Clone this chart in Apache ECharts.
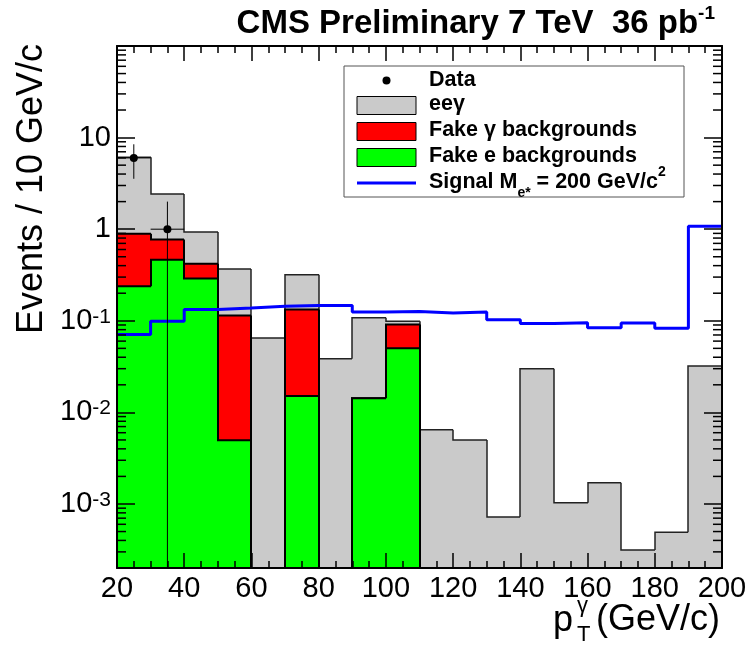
<!DOCTYPE html>
<html><head><meta charset="utf-8">
<script src="https://cdn.jsdelivr.net/npm/echarts@6/dist/echarts.min.js"></script>
<style>html,body{margin:0;padding:0;background:#fff}#c{width:751px;height:651px}</style>
</head><body><div id="c"></div>
<script>
// ---- data ----
const binEdges = [20,30,40,50,60,70,80,90,100,110,120,130,140,150,160,170,180,190,200];
const fakeE     = [0.238,0.465,0.289,0.00497,0,0.0151,0,0.0143,0.050,0,0,0,0,0,0,0,0,0];
const fakeGamma = [0.652,0.305,0.131,0.109,0,0.118,0,0,0.041,0,0,0,0,0,0,0,0,0];
const eeGamma   = [5.23,1.65,0.51,0.254,0.065,0.186,0.0385,0.0937,0.008,0.00645,0.0050,0.00072,0.030,0.00103,0.0017,0.000315,0.00049,0.032];
const signal    = [0.071,0.099,0.133,0.138,0.144,0.147,0.147,0.125,0.126,0.122,0.125,0.1025,0.0935,0.095,0.0838,0.0943,0.083,1.08];
const dataX   = [25, 35];
const dataY   = [6, 1];
const dataErr = [2.45, 1.0];
const yDecades      = [0.001, 0.01, 0.1, 1, 10];
const yDecadeLabels = ['10{s|-3}', '10{s|-2}', '10{s|-1}', '1', '10'];
const yMinorMult    = [2,3,4,5,6,7,8,9];

const FONT = '"Liberation Sans", Arial, Helvetica, sans-serif';
const Y_MIN = 0.0002, Y_MAX = 100;

// stacked tops
const topGreen = fakeE.slice();
const topRed = fakeE.map((v, i) => v + fakeGamma[i]);
const topGrey = topRed.map((v, i) => v + eeGamma[i]);

function histData(vals) {
  return vals.map((v, i) => [binEdges[i], binEdges[i + 1], v, i > 0 ? vals[i - 1] : 0]);
}
function histRender(fill, stroke, lw) {
  return function (params, api) {
    const cs = params.coordSys;
    const bottom = cs.y + cs.height;
    const x0 = api.value(0), x1 = api.value(1), v = api.value(2), pv = api.value(3);
    const yOf = val => (val > 0 ? Math.min(api.coord([x0, val])[1], bottom) : bottom);
    const px0 = Math.round(api.coord([x0, 1])[0]), px1 = Math.round(api.coord([x1, 1])[0]);
    const py = yOf(v), ppy = yOf(pv);
    const children = [];
    if (py < bottom) {
      children.push({type: 'rect', shape: {x: px0, y: py, width: px1 - px0, height: bottom - py},
        style: {fill: fill, stroke: 'none', lineWidth: 0}});
    }
    children.push({type: 'polyline', shape: {points: [[px0, ppy], [px0, py], [px1, py]]},
      style: {fill: 'none', stroke: stroke, lineWidth: lw}});
    return {type: 'group', children: children};
  };
}

const minorVals = [];
for (let e = -4; e <= 1; e++) {
  yMinorMult.forEach(m => {
    const v = m * Math.pow(10, e);
    if (v > Y_MIN * 1.0001 && v < Y_MAX) minorVals.push([20, v]);
  });
}

const signalPts = signal.map((v, i) => [binEdges[i], v]).concat([[binEdges[binEdges.length - 1], signal[signal.length - 1]]]);

function yLabel(v) {
  for (let i = 0; i < yDecades.length; i++) if (Math.abs(v / yDecades[i] - 1) < 1e-6) return yDecadeLabels[i];
  return '';
}

const xAxisBase = {
  type: 'value', min: 20, max: 200, interval: 20, z: 10,
  axisLine: {show: true, onZero: false, lineStyle: {color: '#000', width: 2}},
  axisTick: {show: true, inside: true, length: 15, lineStyle: {color: '#000', width: 1.5}},
  minorTick: {show: true, splitNumber: 4, length: 7, lineStyle: {color: '#000', width: 1.5}},
  splitLine: {show: false}, minorSplitLine: {show: false}
};
const yAxisBase = {
  type: 'log', logBase: 10, min: Y_MIN, max: Y_MAX, z: 10,
  axisLine: {show: true, onZero: false, lineStyle: {color: '#000', width: 2}},
  axisTick: {show: true, inside: true, length: 18, lineStyle: {color: '#000', width: 1.5}},
  splitLine: {show: false}
};

const txt = (text, x, y, extra) => Object.assign({
  type: 'text', z: 101, x: x, y: y,
  style: Object.assign({text: text, fill: '#000', font: 'bold 21.5px ' + FONT,
    fontSize: 21.5, fontWeight: 'bold', fontFamily: FONT,
    align: 'left', textAlign: 'left', verticalAlign: 'middle', textVerticalAlign: 'middle'}, (extra || {}))
});

const option = {
  animation: false,
  backgroundColor: '#fff',
  title: {
    text: 'CMS Preliminary 7 TeV  36 pb{sup|-1}',
    right: 31, top: -1,
    textStyle: {fontFamily: FONT, fontSize: 33, fontWeight: 'bold', color: '#000',
      rich: {sup: {fontFamily: FONT, fontSize: 19, fontWeight: 'bold', color: '#000', padding: [0, 0, 20, 0]}}}
  },
  grid: {left: 117, right: 29, top: 46, bottom: 83, containLabel: false, outerBoundsMode: 'none', show: false},
  xAxis: [
    Object.assign({}, xAxisBase, {position: 'bottom',
      axisLabel: {show: true, fontFamily: FONT, fontSize: 29, color: '#000', margin: 6, showMinLabel: true, showMaxLabel: true}}),
    Object.assign({}, xAxisBase, {position: 'top', axisLabel: {show: false}})
  ],
  yAxis: [
    Object.assign({}, yAxisBase, {position: 'left',
      axisLabel: {show: true, formatter: yLabel, fontFamily: FONT, fontSize: 29, color: '#000', margin: 6,
        rich: {s: {fontFamily: FONT, fontSize: 21, color: '#000', padding: [0, 0, 8, 0]}}}}),
    Object.assign({}, yAxisBase, {position: 'right', axisLabel: {show: false}})
  ],
  series: [
    {name: 'eeγ', type: 'custom', xAxisIndex: 0, yAxisIndex: 0, z: 2, silent: true,
      encode: {x: [0, 1], y: 2}, data: histData(topGrey), renderItem: histRender('#cacaca', '#222', 1.5)},
    {name: 'Fake γ backgrounds', type: 'custom', xAxisIndex: 0, yAxisIndex: 0, z: 3, silent: true,
      encode: {x: [0, 1], y: 2}, data: histData(topRed), renderItem: histRender('#ff0000', '#000', 2)},
    {name: 'Fake e backgrounds', type: 'custom', xAxisIndex: 0, yAxisIndex: 0, z: 4, silent: true,
      encode: {x: [0, 1], y: 2}, data: histData(topGreen), renderItem: histRender('#00ff00', '#000', 2)},
    {name: 'Signal', type: 'line', xAxisIndex: 0, yAxisIndex: 0, z: 5, step: 'end', showSymbol: false, symbol: 'none',
      silent: true, clip: true, data: signalPts, lineStyle: {color: '#0000ff', width: 3}},
    {name: 'Data', type: 'custom', xAxisIndex: 0, yAxisIndex: 0, z: 6, silent: true,
      encode: {x: 0, y: 1}, data: dataX.map((x, i) => [x, dataY[i], dataErr[i]]),
      renderItem: function (params, api) {
        const cs = params.coordSys, bottom = cs.y + cs.height;
        const x = api.value(0), y = api.value(1), e = api.value(2);
        const p = api.coord([x, y]);
        const yHi = api.coord([x, y + e])[1];
        const yLo = (y - e) > 0 ? api.coord([x, y - e])[1] : bottom;
        const xl = api.coord([x - 5, y])[0], xr = api.coord([x + 5, y])[0];
        return {type: 'group', children: [
          {type: 'line', shape: {x1: p[0], y1: yHi, x2: p[0], y2: yLo}, style: {stroke: '#000', lineWidth: 1}},
          {type: 'line', shape: {x1: xl, y1: p[1], x2: xr, y2: p[1]}, style: {stroke: '#000', lineWidth: 1}},
          {type: 'circle', shape: {cx: p[0], cy: p[1], r: 4}, style: {fill: '#000', stroke: 'none'}}
        ]};
      }},
    {name: 'minorTicks', type: 'custom', xAxisIndex: 0, yAxisIndex: 0, z: 10, silent: true,
      encode: {x: 0, y: 1}, data: minorVals,
      renderItem: function (params, api) {
        const cs = params.coordSys;
        const y = api.coord([20, api.value(1)])[1];
        return {type: 'group', children: [
          {type: 'line', shape: {x1: cs.x, y1: y, x2: cs.x + 9, y2: y}, style: {stroke: '#000', lineWidth: 1.5}},
          {type: 'line', shape: {x1: cs.x + cs.width - 9, y1: y, x2: cs.x + cs.width, y2: y}, style: {stroke: '#000', lineWidth: 1.5}}
        ]};
      }}
  ],
  graphic: [
    // axis titles
    {type: 'text', z: 50, x: 32, y: 189, rotation: Math.PI / 2,
      style: {text: 'Events / 10 GeV/c', fill: '#000', font: '36px ' + FONT, fontSize: 36, fontFamily: FONT,
        align: 'center', textAlign: 'center', verticalAlign: 'middle', textVerticalAlign: 'middle'}},
    {type: 'text', z: 50, x: 553, y: 621,
      style: {text: 'p', fill: '#000', font: '36px ' + FONT, fontSize: 36, fontFamily: FONT,
        align: 'left', textAlign: 'left', verticalAlign: 'middle', textVerticalAlign: 'middle'}},
    {type: 'text', z: 50, x: 577, y: 606,
      style: {text: 'γ', fill: '#000', font: '22px ' + FONT, fontSize: 22, fontFamily: FONT,
        align: 'left', textAlign: 'left', verticalAlign: 'middle', textVerticalAlign: 'middle'}},
    {type: 'text', z: 50, x: 577, y: 635,
      style: {text: 'T', fill: '#000', font: '22px ' + FONT, fontSize: 22, fontFamily: FONT,
        align: 'left', textAlign: 'left', verticalAlign: 'middle', textVerticalAlign: 'middle'}},
    {type: 'text', z: 50, x: 720, y: 620,
      style: {text: '(GeV/c)', fill: '#000', font: '36px ' + FONT, fontSize: 36, fontFamily: FONT,
        align: 'right', textAlign: 'right', verticalAlign: 'middle', textVerticalAlign: 'middle'}},
    // legend
    {type: 'rect', z: 100, shape: {x: 344, y: 66, width: 340, height: 131}, style: {fill: '#fff', stroke: '#555', lineWidth: 1}},
    {type: 'circle', z: 101, shape: {cx: 386.5, cy: 80.5, r: 4}, style: {fill: '#000'}},
    txt('Data', 429, 80.5),
    {type: 'rect', z: 101, shape: {x: 357, y: 96.5, width: 59, height: 18}, style: {fill: '#cacaca', stroke: '#000', lineWidth: 1}},
    txt('eeγ', 429, 104),
    {type: 'rect', z: 101, shape: {x: 357, y: 122.5, width: 59, height: 18}, style: {fill: '#ff0000', stroke: '#000', lineWidth: 1}},
    txt('Fake γ backgrounds', 429, 130.5),
    {type: 'rect', z: 101, shape: {x: 357, y: 148.5, width: 59, height: 18}, style: {fill: '#00ff00', stroke: '#000', lineWidth: 1}},
    txt('Fake e backgrounds', 429, 156.5),
    {type: 'line', z: 101, shape: {x1: 357, y1: 183, x2: 416, y2: 183}, style: {stroke: '#0000ff', lineWidth: 3}},
    txt('Signal M{sub|e*} = 200 GeV/c{sup|2}', 429, 182, {
      rich: {sub: {fontSize: 14, fontWeight: 'bold', fontFamily: FONT, fill: '#000', padding: [22, 0, 0, 0]},
             sup: {fontSize: 14, fontWeight: 'bold', fontFamily: FONT, fill: '#000', padding: [0, 0, 20, 0]}}})
  ]
};

const chart = echarts.init(document.getElementById('c'), null, {renderer: 'canvas', width: 751, height: 651});
chart.setOption(option);
</script>
</body></html>
